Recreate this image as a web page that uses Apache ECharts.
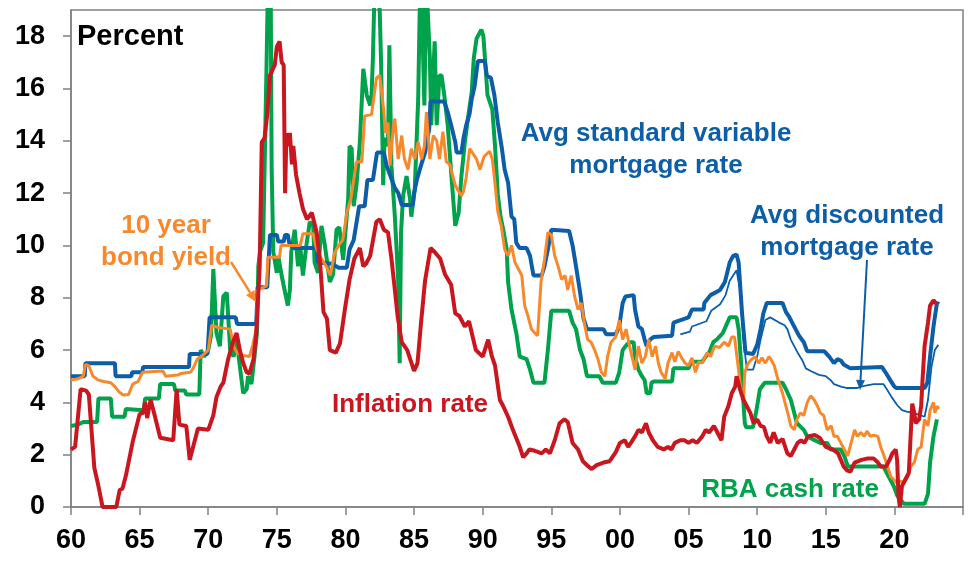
<!DOCTYPE html>
<html>
<head>
<meta charset="utf-8">
<script src="https://cdn.jsdelivr.net/npm/echarts/dist/echarts.min.js"></script>
<style>
  html, body { margin: 0; padding: 0; background: #fff; }
  #chart { width: 979px; height: 563px; }
</style>
</head>
<body>
<div id="chart"></div>
<script>
// tick positions
const xTicks = [1960, 1965, 1970, 1975, 1980, 1985, 1990, 1995, 2000, 2005, 2010, 2015, 2020, 2025];
const yTicks = [0, 2, 4, 6, 8, 10, 12, 14, 16, 18];

// values, [year, percent]
const svr = [
  [1960.0,5.0],[1961.0,5.0],[1961.05,5.5],[1963.2,5.5],[1963.25,5.0],[1964.4,5.0],[1964.45,5.15],[1965.2,5.15],
  [1965.25,5.35],[1968.6,5.35],[1968.65,5.85],[1969.95,5.85],[1970.1,7.25],[1972.0,7.25],[1972.1,7.0],[1973.5,7.0],
  [1973.6,8.4],[1974.3,8.4],[1974.5,10.4],[1975.0,10.4],[1975.1,10.15],[1975.5,10.15],[1975.6,10.4],[1975.8,10.4],
  [1975.9,10.1],[1976.2,9.9],[1977.9,9.9],[1978.0,9.35],[1979.0,9.3],[1979.5,9.15],[1980.1,9.15],[1980.3,9.85],
  [1980.6,10.2],[1981.0,11.5],[1981.4,11.5],[1981.6,12.5],[1982.0,12.5],[1982.3,13.55],[1982.8,13.55],[1983.0,13.05],
  [1983.35,12.55],[1983.6,12.2],[1983.85,12.0],[1984.1,11.55],[1984.9,11.55],[1985.0,12.0],[1985.2,12.5],[1985.5,13.05],
  [1985.8,13.55],[1986.1,14.45],[1986.2,15.5],[1987.2,15.5],[1987.45,15.1],[1987.7,14.6],[1988.0,13.95],[1988.1,13.55],
  [1988.45,13.55],[1988.6,14.1],[1988.8,14.6],[1989.05,15.05],[1989.2,15.6],[1989.4,16.05],[1989.65,17.05],[1990.15,17.05],
  [1990.3,16.5],[1990.6,16.4],[1990.85,15.75],[1991.1,14.7],[1991.4,13.7],[1991.6,12.9],[1991.85,12.4],[1992.1,11.1],
  [1992.3,11.0],[1992.45,10.1],[1992.7,9.9],[1993.2,9.9],[1993.45,9.6],[1993.7,8.85],[1994.3,8.85],[1994.5,9.2],
  [1994.75,9.85],[1995.0,10.6],[1996.3,10.55],[1996.55,10.0],[1996.8,9.2],[1997.1,8.2],[1997.35,7.2],[1997.6,6.8],
  [1998.8,6.8],[1999.0,6.6],[1999.7,6.6],[1999.95,6.9],[2000.2,7.8],[2000.4,8.05],[2001.0,8.1],[2001.1,7.55],
  [2001.35,6.9],[2001.6,6.8],[2001.8,6.4],[2001.95,6.15],[2002.2,6.4],[2002.45,6.5],[2003.8,6.55],[2003.9,7.05],
  [2005.0,7.25],[2005.25,7.55],[2006.1,7.55],[2006.15,7.8],[2006.6,8.1],[2007.3,8.3],[2007.65,8.6],[2008.0,9.35],
  [2008.25,9.6],[2008.5,9.65],[2008.65,9.35],[2008.9,7.4],[2009.15,5.9],[2009.7,5.85],[2010.0,6.2],[2010.25,6.8],
  [2010.45,7.4],[2010.7,7.8],[2011.85,7.8],[2012.1,7.45],[2012.3,7.3],[2012.55,7.05],[2012.8,6.8],[2013.05,6.55],
  [2013.4,6.3],[2013.65,5.95],[2014.9,5.95],[2015.25,5.75],[2015.6,5.5],[2015.85,5.65],[2016.1,5.6],[2016.3,5.45],
  [2016.8,5.3],[2019.1,5.35],[2019.35,5.15],[2019.7,4.85],[2020.0,4.6],[2020.15,4.55],[2022.2,4.55],[2022.4,4.75],
  [2022.6,5.75],[2022.85,6.9],[2023.1,7.8],[2023.25,7.75]
];

const discounted = [
  [2004.4,6.6],[2005.1,6.7],[2005.25,6.9],[2006.3,7.1],[2006.65,7.5],[2007.3,7.75],[2007.7,8.1],[2008.0,8.65],
  [2008.5,9.05],[2008.75,8.3],[2009.0,6.4],[2009.25,5.25],[2009.7,5.25],[2010.0,5.75],[2010.25,6.4],[2010.6,7.15],
  [2010.95,7.25],[2011.6,7.05],[2012.0,6.95],[2012.2,6.8],[2012.45,6.4],[2012.7,6.15],[2012.95,5.9],[2013.3,5.6],
  [2013.55,5.3],[2013.9,5.2],[2014.5,5.05],[2015.0,5.0],[2015.35,4.85],[2015.6,4.7],[2016.1,4.6],[2016.5,4.55],
  [2017.3,4.55],[2017.55,4.6],[2018.0,4.65],[2018.5,4.7],[2019.2,4.7],[2019.45,4.5],[2019.8,4.2],[2020.2,3.9],
  [2020.55,3.7],[2020.9,3.65],[2021.4,3.6],[2022.2,3.45],[2022.45,4.1],[2022.7,5.35],[2022.95,6.0],[2023.2,6.2]
];

const bond = [
  [1960.0,4.85],[1960.5,4.9],[1960.9,5.0],[1961.05,5.45],[1961.3,5.4],[1961.6,5.0],[1962.0,4.85],[1962.4,4.8],
  [1962.9,4.75],[1963.2,4.6],[1963.5,4.4],[1963.8,4.28],[1964.2,4.3],[1964.5,4.7],[1964.9,4.8],[1965.2,5.15],
  [1966.7,5.2],[1966.9,5.0],[1967.8,5.05],[1968.0,5.1],[1968.7,5.15],[1968.9,5.3],[1969.2,5.65],[1969.6,5.8],
  [1970.0,6.0],[1970.25,6.95],[1970.8,6.85],[1971.6,6.8],[1971.85,6.15],[1972.1,5.9],[1972.4,5.8],[1973.0,5.75],
  [1973.25,6.2],[1973.5,6.8],[1973.6,8.3],[1974.25,8.45],[1974.35,9.55],[1975.2,9.55],[1975.3,10.0],[1976.7,10.0],
  [1976.9,10.45],[1977.65,10.45],[1977.9,9.85],[1978.3,9.45],[1978.6,9.2],[1978.9,8.85],[1979.2,9.7],[1979.5,10.0],
  [1979.8,10.2],[1980.1,11.25],[1980.4,11.8],[1980.8,13.2],[1981.2,13.2],[1981.4,14.95],[1981.9,15.0],[1982.26,16.4],
  [1982.5,16.5],[1982.8,15.1],[1982.9,14.3],[1983.1,14.7],[1983.25,13.05],[1983.5,14.6],[1983.6,14.85],[1983.84,13.3],
  [1984.1,14.2],[1984.3,13.3],[1984.56,12.9],[1984.8,13.7],[1985.05,13.3],[1985.3,13.95],[1985.55,13.3],[1985.75,13.8],
  [1985.9,15.1],[1986.15,13.3],[1986.4,14.2],[1986.65,14.0],[1986.85,13.3],[1987.1,14.35],[1987.35,13.2],[1987.6,13.1],
  [1988.0,12.3],[1988.2,12.1],[1988.45,11.9],[1988.6,12.05],[1988.8,12.6],[1989.05,13.7],[1989.3,13.5],[1989.55,13.3],
  [1989.8,12.9],[1990.1,13.4],[1990.5,13.6],[1990.7,13.3],[1990.85,12.6],[1991.1,11.3],[1991.35,10.75],[1991.6,9.85],
  [1991.85,9.6],[1992.1,10.0],[1992.35,9.35],[1992.6,9.1],[1992.85,8.85],[1993.06,7.7],[1993.3,7.3],[1993.55,6.8],
  [1993.8,6.65],[1994.0,6.55],[1994.25,8.6],[1994.5,9.45],[1994.75,10.5],[1995.0,10.4],[1995.25,9.6],[1995.5,9.2],
  [1995.75,8.7],[1996.0,8.85],[1996.2,8.3],[1996.45,8.85],[1996.7,8.05],[1996.95,7.55],[1997.2,7.8],[1997.4,7.05],
  [1997.65,6.4],[1997.9,6.3],[1998.16,6.0],[1998.4,5.65],[1998.65,5.15],[1998.9,5.0],[1999.1,5.75],[1999.35,6.3],
  [1999.7,6.5],[1999.95,7.15],[2000.2,6.4],[2000.45,6.8],[2000.7,6.15],[2001.1,5.25],[2001.35,6.15],[2001.6,5.5],
  [2001.85,5.75],[2002.1,6.4],[2002.35,5.75],[2002.6,6.15],[2002.8,5.5],[2003.0,5.15],[2003.3,4.9],[2003.5,5.5],
  [2003.8,5.9],[2004.0,5.55],[2004.25,5.95],[2004.5,5.7],[2004.75,5.5],[2005.0,5.4],[2005.25,5.7],[2005.5,5.15],
  [2005.75,5.55],[2006.0,5.5],[2006.35,5.9],[2006.6,5.75],[2006.9,6.15],[2007.25,6.1],[2007.6,6.3],[2007.9,6.15],
  [2008.15,6.5],[2008.35,6.5],[2008.55,5.65],[2008.85,4.35],[2009.0,4.1],[2009.1,5.15],[2009.35,5.5],[2009.6,5.65],
  [2009.85,5.75],[2010.1,5.5],[2010.35,5.7],[2010.6,5.5],[2010.85,5.75],[2011.0,5.65],[2011.25,5.4],[2011.5,4.9],
  [2011.85,4.35],[2012.1,3.85],[2012.3,3.45],[2012.45,3.1],[2012.7,2.95],[2012.9,3.35],[2013.15,3.6],[2013.4,3.5],
  [2013.65,4.0],[2013.9,4.25],[2014.15,4.1],[2014.4,3.85],[2014.6,3.6],[2014.85,3.5],[2015.1,2.95],[2015.4,3.1],
  [2015.6,2.7],[2015.85,2.7],[2016.1,2.45],[2016.35,2.2],[2016.6,1.95],[2016.85,2.45],[2017.1,2.95],[2017.3,2.7],
  [2017.55,2.85],[2017.8,2.7],[2018.0,2.9],[2018.25,2.7],[2018.5,2.75],[2018.8,2.7],[2019.0,2.3],[2019.25,1.95],
  [2019.5,1.55],[2019.75,1.15],[2019.95,1.05],[2020.2,0.9],[2020.45,1.0],[2020.7,0.9],[2020.95,1.15],[2021.2,1.55],
  [2021.45,1.7],[2021.7,2.2],[2021.95,2.3],[2022.2,3.35],[2022.45,3.1],[2022.6,3.7],[2022.85,4.0],[2022.95,3.6],
  [2023.1,3.85],[2023.25,3.75]
];

const cash = [
  [1960.0,3.1],[1960.5,3.15],[1960.9,3.25],[1961.9,3.25],[1962.0,4.15],[1962.9,4.15],[1963.0,3.45],[1963.9,3.45],
  [1964.0,3.75],[1965.3,3.7],[1965.4,4.15],[1966.4,4.15],[1966.5,4.7],[1967.5,4.7],[1967.6,4.45],[1968.3,4.45],
  [1968.4,4.3],[1969.35,4.3],[1969.45,6.0],[1969.7,5.75],[1970.0,6.0],[1970.2,6.55],[1970.37,9.1],[1970.6,6.65],
  [1970.85,6.15],[1971.1,8.05],[1971.35,8.2],[1971.6,6.0],[1971.85,5.75],[1972.07,6.4],[1972.3,5.4],[1972.55,4.35],
  [1972.8,4.5],[1972.9,5.0],[1973.15,4.7],[1973.4,5.9],[1973.55,6.65],[1973.65,9.2],[1973.77,9.75],[1974.0,10.1],
  [1974.1,12.8],[1974.25,16.9],[1974.4,21.5],[1974.55,20.0],[1974.62,13.0],[1974.74,9.75],[1975.0,8.95],[1975.1,9.6],
  [1975.35,8.85],[1975.6,8.2],[1975.8,7.7],[1975.95,8.3],[1976.05,9.75],[1976.3,10.6],[1976.55,9.2],[1976.7,10.0],
  [1976.9,8.85],[1977.15,10.0],[1977.4,10.9],[1977.65,10.75],[1977.75,9.35],[1978.0,8.95],[1978.25,10.75],[1978.5,10.0],
  [1978.86,8.6],[1979.1,8.9],[1979.35,10.6],[1979.55,10.7],[1979.83,9.45],[1980.2,11.8],[1980.3,13.8],[1980.45,13.7],
  [1980.6,11.5],[1980.8,12.3],[1981.05,13.95],[1981.3,16.75],[1981.55,15.75],[1981.8,15.35],[1981.9,15.75],[1982.0,17.15],
  [1982.15,20.5],[1982.4,20.0],[1982.5,18.9],[1982.6,16.9],[1982.75,12.3],[1982.85,14.1],[1983.1,13.8],[1983.2,17.65],
  [1983.35,13.05],[1983.6,11.1],[1983.84,8.7],[1983.95,5.5],[1984.05,10.5],[1984.2,11.9],[1984.45,12.65],[1984.7,11.8],
  [1984.8,11.1],[1985.05,12.15],[1985.3,15.6],[1985.4,18.7],[1985.5,20.5],[1985.75,15.35],[1985.9,20.5],[1986.0,18.9],
  [1986.15,17.15],[1986.25,14.6],[1986.5,17.8],[1986.65,14.6],[1986.85,16.5],[1987.0,16.5],[1987.2,15.75],[1987.45,14.6],
  [1987.7,12.8],[1988.0,10.75],[1988.25,11.25],[1988.45,12.65],[1988.7,13.95],[1988.95,14.95],[1989.2,15.85],[1989.35,17.15],
  [1989.55,17.9],[1989.9,18.25],[1990.05,18.0],[1990.2,16.9],[1990.35,15.75],[1990.7,15.2],[1990.9,13.8],[1991.1,11.95],
  [1991.3,11.1],[1991.5,10.6],[1991.75,9.85],[1991.85,8.6],[1992.1,7.55],[1992.45,6.65],[1992.7,5.75],[1993.2,5.65],
  [1993.45,5.25],[1993.7,4.75],[1994.5,4.75],[1994.75,6.0],[1995.0,7.5],[1996.3,7.5],[1996.55,7.05],[1996.8,6.8],
  [1997.1,6.0],[1997.35,5.65],[1997.6,5.0],[1998.5,5.0],[1998.75,4.75],[1999.7,4.75],[1999.95,5.15],[2000.2,6.0],
  [2000.5,6.2],[2000.7,6.3],[2001.0,6.3],[2001.1,5.75],[2001.35,5.25],[2001.6,5.0],[2001.8,4.85],[2001.95,4.35],
  [2002.2,4.35],[2002.3,4.75],[2002.45,4.8],[2003.8,4.8],[2003.9,5.3],[2005.0,5.3],[2005.2,5.55],[2006.0,5.55],
  [2006.25,5.75],[2006.5,5.9],[2006.8,6.3],[2007.05,6.4],[2007.5,6.65],[2008.0,7.25],[2008.5,7.25],[2008.65,6.8],
  [2008.9,5.0],[2009.0,4.0],[2009.1,3.2],[2009.2,3.05],[2009.7,3.05],[2009.95,3.7],[2010.2,4.5],[2010.55,4.75],
  [2011.85,4.75],[2012.1,4.5],[2012.45,4.1],[2012.7,3.6],[2012.9,3.2],[2013.4,2.95],[2013.65,2.7],[2014.6,2.45],
  [2015.1,2.45],[2015.35,2.2],[2016.1,2.2],[2016.35,1.95],[2016.6,1.55],[2019.2,1.55],[2019.45,1.3],[2019.7,1.05],
  [2019.95,0.8],[2020.2,0.45],[2020.45,0.27],[2020.7,0.12],[2022.2,0.12],[2022.45,0.5],[2022.6,1.7],[2022.85,2.7],
  [2023.1,3.35]
];

const cpi = [
  [1960.0,2.2],[1960.3,2.3],[1960.7,4.5],[1961.1,4.45],[1961.3,4.3],[1961.7,1.5],[1962.0,0.8],[1962.3,0.0],
  [1963.3,0.0],[1963.55,0.65],[1963.75,0.7],[1964.0,1.2],[1964.5,2.5],[1965.0,3.55],[1965.25,3.6],[1965.4,4.0],
  [1965.55,3.4],[1965.8,4.1],[1966.05,3.6],[1966.5,2.65],[1967.45,2.55],[1967.7,4.5],[1967.9,3.15],[1968.4,3.1],
  [1968.65,1.8],[1969.25,3.0],[1970.0,2.95],[1970.37,3.5],[1970.6,4.2],[1970.9,4.6],[1971.1,4.75],[1971.45,5.65],
  [1971.8,6.3],[1972.07,6.65],[1972.3,6.0],[1972.55,5.5],[1972.8,5.15],[1973.0,5.1],[1973.3,5.65],[1973.5,6.65],
  [1973.75,9.2],[1973.9,13.95],[1974.1,14.1],[1974.3,15.0],[1974.5,16.5],[1974.85,16.9],[1975.0,17.6],[1975.2,17.8],
  [1975.35,17.0],[1975.5,16.9],[1975.6,12.0],[1975.7,14.3],[1975.85,13.8],[1975.95,14.3],[1976.1,13.1],[1976.2,13.8],
  [1976.4,12.7],[1976.65,12.0],[1976.9,11.4],[1977.2,11.0],[1977.55,11.25],[1977.9,10.5],[1978.15,9.35],[1978.4,7.45],
  [1978.65,7.2],[1978.86,6.0],[1979.3,5.9],[1979.6,6.25],[1980.0,7.7],[1980.3,8.7],[1980.65,9.5],[1981.05,9.9],
  [1981.3,9.2],[1981.5,9.3],[1981.8,9.6],[1982.25,10.9],[1982.5,11.0],[1982.8,10.6],[1983.1,10.5],[1983.35,9.5],
  [1983.6,8.3],[1983.8,7.3],[1984.1,6.3],[1984.5,6.0],[1985.0,5.2],[1985.25,5.5],[1985.5,7.0],[1985.8,8.65],
  [1986.2,9.9],[1986.5,9.75],[1986.9,9.5],[1987.25,8.9],[1987.7,8.5],[1988.0,7.4],[1988.3,7.3],[1988.7,6.9],
  [1989.0,7.1],[1989.5,6.0],[1990.0,5.75],[1990.4,6.4],[1990.65,5.8],[1990.9,5.4],[1991.25,4.1],[1991.5,3.85],
  [1991.85,3.45],[1992.2,2.95],[1992.7,2.3],[1992.95,1.9],[1993.2,2.05],[1993.4,2.2],[1993.8,2.15],[1994.3,2.05],
  [1994.6,2.2],[1994.9,2.05],[1995.25,2.55],[1995.6,3.2],[1995.95,3.35],[1996.2,3.25],[1996.55,2.45],[1996.95,2.2],
  [1997.3,1.75],[1997.7,1.55],[1997.95,1.45],[1998.3,1.6],[1998.8,1.7],[1999.25,1.75],[1999.7,2.1],[2000.0,2.45],
  [2000.35,2.55],[2000.6,2.3],[2000.8,2.45],[2001.1,2.7],[2001.35,2.95],[2001.6,2.85],[2001.9,3.2],[2002.1,2.85],
  [2002.4,2.55],[2002.75,2.3],[2003.2,2.2],[2003.5,2.3],[2003.75,2.2],[2004.0,2.45],[2004.4,2.55],[2004.7,2.55],
  [2005.0,2.45],[2005.3,2.55],[2005.6,2.45],[2006.0,2.7],[2006.25,2.95],[2006.5,2.85],[2006.85,3.1],[2007.1,2.85],
  [2007.4,2.55],[2007.6,3.45],[2007.9,3.85],[2008.15,4.35],[2008.4,4.6],[2008.5,5.0],[2008.75,4.5],[2009.0,4.1],
  [2009.25,3.85],[2009.5,3.6],[2009.75,3.2],[2010.0,3.35],[2010.25,3.1],[2010.5,3.05],[2010.7,2.7],[2010.95,2.45],
  [2011.2,2.85],[2011.5,2.45],[2011.85,2.6],[2012.2,2.05],[2012.45,1.95],[2012.7,2.2],[2012.95,2.45],[2013.2,2.55],
  [2013.45,2.45],[2013.7,2.7],[2014.2,2.75],[2014.55,2.65],[2014.8,2.45],[2015.0,2.3],[2015.5,2.2],[2015.9,2.05],
  [2016.1,1.8],[2016.3,1.55],[2016.55,1.4],[2016.8,1.35],[2017.1,1.7],[2017.6,1.8],[2018.0,1.85],[2018.5,1.85],
  [2018.8,1.7],[2019.0,1.55],[2019.4,1.55],[2019.65,1.8],[2019.85,2.05],[2020.1,2.2],[2020.2,1.8],[2020.3,0.4],
  [2020.4,0.0],[2020.55,0.8],[2020.8,1.05],[2021.05,1.3],[2021.3,3.95],[2021.45,3.6],[2021.55,3.2],[2021.8,3.35],
  [2021.95,3.85],[2022.05,4.85],[2022.2,6.15],[2022.45,7.05],[2022.6,7.7],[2022.85,7.9],[2023.1,7.75]
];

const BLUE = '#0d5ea8', ORANGE = '#f7892c', GREEN = '#00a24b', RED = '#c8171f';
const GREY = '#808080';
const FONT = "'Liberation Sans', Arial, sans-serif";

function arrow(x1, y1, x2, y2, color, w, head) {
  let ang = Math.atan2(y2 - y1, x2 - x1);
  let bx = x2 - head * Math.cos(ang), by = y2 - head * Math.sin(ang);
  let px = -Math.sin(ang) * head * 0.45, py = Math.cos(ang) * head * 0.45;
  return [
    { type: 'line', z: 100, shape: { x1: x1, y1: y1, x2: bx, y2: by }, style: { stroke: color, lineWidth: w } },
    { type: 'polygon', z: 100, shape: { points: [[x2, y2], [bx + px, by + py], [bx - px, by - py]] }, style: { fill: color } }
  ];
}

function label(text, x, y, color, size, align) {
  return {
    type: 'text', z: 100, x: x, y: y,
    style: { text: text, fill: color, font: 'bold ' + size + 'px ' + FONT, textAlign: align || 'center', textVerticalAlign: 'middle' }
  };
}

function line(name, data, color, width) {
  return {
    name: name, type: 'line', data: data, showSymbol: false, clip: true,
    lineStyle: { color: color, width: width }, itemStyle: { color: color }
  };
}

let chart = echarts.init(document.getElementById('chart'));
chart.setOption({
  animation: false,
  grid: { left: 71, right: 16, top: 10, bottom: 56, show: true, borderColor: GREY, borderWidth: 1.5 },
  xAxis: {
    type: 'value', min: 1960, max: 2025, interval: 5,
    axisLine: { lineStyle: { color: GREY, width: 1.5 } },
    axisTick: { length: 8, customValues: xTicks, lineStyle: { color: GREY, width: 1.5 } },
    splitLine: { show: false },
    axisLabel: {
      margin: 20, color: '#000', fontSize: 27, fontWeight: 'bold', fontFamily: FONT,
      customValues: xTicks.slice(0, -1),
      formatter: function (v) { return String(v).slice(2); }
    }
  },
  yAxis: {
    type: 'value', min: 0, max: 19, interval: 2,
    axisLine: { show: true, lineStyle: { color: GREY, width: 1.5 } },
    axisTick: { show: true, length: 8, customValues: yTicks, lineStyle: { color: GREY, width: 1.5 } },
    splitLine: { show: false },
    axisLabel: {
      margin: 26, color: '#000', fontSize: 27, fontWeight: 'bold', fontFamily: FONT,
      customValues: yTicks
    }
  },
  series: [
    line('RBA cash rate', cash, GREEN, 4),
    line('Avg standard variable mortgage rate', svr, BLUE, 4),
    line('Avg discounted mortgage rate', discounted, BLUE, 1.8),
    line('10 year bond yield', bond, ORANGE, 3),
    line('Inflation rate', cpi, RED, 4)
  ],
  graphic: [
    label('Percent', 77, 37, '#000', 29, 'left'),
    label('10 year', 166, 226, ORANGE, 26),
    label('bond yield', 166, 258, ORANGE, 26),
    label('Avg standard variable', 656, 134, BLUE, 26),
    label('mortgage rate', 656, 166, BLUE, 26),
    label('Avg discounted', 847, 216, BLUE, 26),
    label('mortgage rate', 847, 248, BLUE, 26),
    label('Inflation rate', 410, 405, RED, 26),
    label('RBA cash rate', 790, 490, GREEN, 26)
  ].concat(arrow(231, 262, 256, 302, ORANGE, 2.5, 11))
   .concat(arrow(867, 260, 860, 390, BLUE, 2, 10))
});
</script>
</body>
</html>
